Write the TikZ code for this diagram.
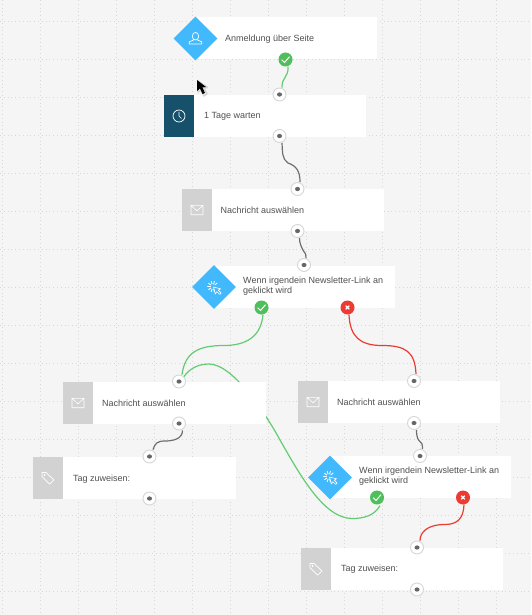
\documentclass[tikz,border=0pt]{standalone}
\usepackage{fontspec}
\setmainfont{Liberation Sans}
\usetikzlibrary{backgrounds,shapes.geometric}
\pgfdeclarelayer{gridlayer}
\pgfdeclarelayer{edgelayer}
\pgfsetlayers{gridlayer,edgelayer,main}
\definecolor{bgc}{HTML}{F5F5F5}
\definecolor{dotc}{HTML}{D8D8D8}
\definecolor{blueic}{HTML}{42B8FD}
\definecolor{darkic}{HTML}{17506B}
\definecolor{grayic}{HTML}{D2D2D2}
\definecolor{okc}{HTML}{4FBF5B}
\definecolor{okl}{HTML}{62CC72}
\definecolor{noc}{HTML}{EC3B32}
\definecolor{txt}{HTML}{505050}
\definecolor{portb}{HTML}{D6D6D6}
\definecolor{portd}{HTML}{666666}
\definecolor{edgec}{HTML}{6F6F6F}
\tikzset{
  x=1pt,y=-1pt,
  griddot/.style={dotc,line width=0.9pt,dash pattern=on 1pt off 2.8pt},
  card/.style={fill=white,draw=none,anchor=north west,inner sep=0pt,minimum height=42pt},
  tile/.style={draw=none,anchor=north west,inner sep=0pt,minimum width=30pt,minimum height=42pt},
  gem/.style={fill=blueic,draw=none,shape=diamond,inner sep=0pt,minimum size=44pt},
  lbl/.style={anchor=west,inner sep=0pt,text=txt,font=\fontsize{9}{10}\selectfont,align=left},
  port/.style={circle,fill=white,draw=portb,line width=0.9pt,inner sep=0pt,minimum size=13pt},
  okdot/.style={circle,fill=okc,draw=none,inner sep=0pt,minimum size=14pt},
  nodot/.style={circle,fill=noc,draw=none,inner sep=0pt,minimum size=14pt},
  glyph/.style={white,line width=0.7pt,line join=round,line cap=round},
  okedge/.style={okl,line width=1.2pt},
  noedge/.style={noc,line width=1.2pt},
  grayedge/.style={edgec,line width=1.2pt},
}
\newcommand{\portat}[2]{\node[port] (#1) at (#2) {}; \fill[portd] (#2) ellipse (2.5pt and 2.1pt);}
\newcommand{\okat}[2]{\node[okdot] (#1) at (#2) {}; \draw[white,line width=1pt,shift={(#2)}] (-3.8,0.2) -- (-1,3) -- (4,-2.8);}
\newcommand{\noat}[2]{\node[nodot] (#1) at (#2) {}; \draw[white,line width=1.1pt,shift={(#2)}] (-1.8,-1.8) -- (1.8,1.8) (-1.8,1.8) -- (1.8,-1.8);}
\newcommand{\mailicon}[1]{\draw[glyph,shift={(#1)},line width=0.6pt] (-6,-4.7) rectangle (6,4.7) (-6,-4.7) -- (0,0.8) -- (6,-4.7);}
\newcommand{\tagicon}[1]{\draw[glyph,shift={(#1)}] (-6,-5.5) -- (-2,-5.5) -- (6,2) -- (1.5,6.2) -- (-6,-1.5) -- cycle; \draw[glyph,shift={(#1)},line width=0.5pt] (-3.5,-3) circle (0.8);}
\newcommand{\clickicon}[1]{\begin{scope}[shift={(#1)}]
 \draw[glyph,line width=0.6pt] (0,0) -- (7,1.8) -- (4.8,3.2) -- (7.6,6) -- (6.2,7.4) -- (3.4,4.6) -- (1.8,7) -- cycle;
 \foreach \a in {75,110,145,180,215,250,285,320}{\draw[glyph,line width=0.9pt] (-0.5,-0.5) ++(\a:2.6) -- ++(\a:2.8);}
\end{scope}}
\begin{document}
\begin{tikzpicture}
\useasboundingbox (0,0) rectangle (531,615);
\begin{pgfonlayer}{gridlayer}
\fill[bgc] (0,0) rectangle (531,615);
\foreach \gx in {2.3,40.3,...,534}{\draw[griddot] (\gx,0) -- (\gx,615);}
\foreach \gy in {21.5,59.5,...,600}{\draw[griddot] (0,\gy) -- (531,\gy);}
\end{pgfonlayer}

% node 1
\node[card,minimum width=182pt] (c1) at (195,17) {};
\node[gem] (g1) at (195.5,38.5) {};
\draw[glyph] (195.5,36.2) ellipse (3.2 and 3.8);
\draw[glyph] (193.3,39.2) -- (193.3,40.2) -- (189.2,41.8) -- (189.2,44) -- (201.8,44) -- (201.8,41.8) -- (197.7,40.2) -- (197.7,39.2);
\node[lbl] (t1) at (225,39) {Anmeldung über Seite};
\okat{k1}{285.5,59.5}

% node 2
\node[card,minimum width=202pt] (c2) at (164,95) {};
\node[tile,fill=darkic] (i2) at (164,95) {};
\draw[glyph] (179,116) circle (6);
\draw[glyph,line width=0.6pt] (179,112) -- (179,116) -- (181.5,118.5);
\node[lbl] (t2) at (204,116) {1 Tage warten};
\portat{p2a}{279.5,94.5}
\portat{p2b}{279.5,136}

% node 3
\node[card,minimum width=202pt] (c3) at (182,189) {};
\node[tile,fill=grayic] (i3) at (182,189) {};
\mailicon{197,210}
\node[lbl] (t3) at (220.5,210) {Nachricht auswählen};
\portat{p3a}{297.5,189}
\portat{p3b}{297.5,231}

% node 4
\node[card,minimum width=181pt] (c4) at (214,266) {};
\node[gem] (g4) at (214,287) {};
\clickicon{213.5,287}
\node[lbl] (t4) at (243,286.3) {Wenn irgendein Newsletter-Link an\\geklickt wird};
\portat{p4}{304,265}
\okat{k4}{261.5,307.5}
\noat{n4}{347.5,307.5}

% node 5
\node[card,minimum width=203pt] (c5) at (63,382) {};
\node[tile,fill=grayic] (i5) at (63,382) {};
\mailicon{78,403}
\node[lbl] (t5) at (102,403) {Nachricht auswählen};
\portat{p5a}{179,381.5}
\portat{p5b}{179,423.5}

% node 6
\node[card,minimum width=203pt] (c6) at (33,457) {};
\node[tile,fill=grayic] (i6) at (33,457) {};
\tagicon{48,478}
\node[lbl] (t6) at (73,479) {Tag zuweisen:};
\portat{p6a}{149.5,456.5}
\portat{p6b}{149.5,498.5}

% node 7
\node[card,minimum width=202pt] (c7) at (298,381) {};
\node[tile,fill=grayic] (i7) at (298,381) {};
\mailicon{313,402}
\node[lbl] (t7) at (337,402) {Nachricht auswählen};
\portat{p7a}{414,381}
\portat{p7b}{414,423}

% node 8
\node[card,minimum width=181pt] (c8) at (330,456) {};
\node[gem] (g8) at (330,477.5) {};
\clickicon{329.5,477}
\node[lbl] (t8) at (359,476.5) {Wenn irgendein Newsletter-Link an\\geklickt wird};
\portat{p8}{420,456}
\okat{k8}{377,497.5}
\noat{n8}{463,497.5}

% node 9
\node[card,minimum width=202pt] (c9) at (301,548) {};
\node[tile,fill=grayic] (i9) at (301,548) {};
\tagicon{316,569}
\node[lbl] (t9) at (341,569) {Tag zuweisen:};
\portat{p9a}{417,547.5}
\portat{p9b}{417,589.5}

% mouse cursor
\draw[black!25,line width=1.5pt,line join=round,opacity=.6] (198,81) -- (198,92) -- (201,90) -- (204,96) -- (207,94) -- (204,88) -- (207.5,87.5) -- cycle;
\fill[black] (197,80) -- (197,91) -- (200,88.5) -- (202.5,94) -- (205,93) -- (202.5,87.5) -- (206,87) -- cycle;

\begin{pgfonlayer}{edgelayer}
\coordinate (m1) at (285,77.5);
\draw[okedge] (k1.south) ++(2.5,0) .. controls +(0,8) and +(2,-5) .. (m1) .. controls +(-2,4) and +(0,-6) .. ([xshift=2.5pt]p2a.north);
\coordinate (m2) at (288,163);
\draw[grayedge] ([xshift=2.5pt]p2b.south) .. controls +(0.5,9) and +(-6,-4) .. (m2) .. controls +(9,3) and +(0,-10) .. ([xshift=2.5pt]p3a.north);
\coordinate (m3) at (303.5,251);
\draw[grayedge] ([xshift=2pt]p3b.south) .. controls +(0,6) and +(-2,-4) .. (m3) .. controls +(2.5,3) and +(0,-3) .. ([xshift=2pt]p4.north);
\coordinate (m4) at (224,345.5);
\draw[okedge] ([xshift=1.5pt]k4.south) .. controls +(-2,22) and +(22,0) .. (m4) .. controls +(-26,0) and +(3,-22) .. ([xshift=3pt]p5a.north);
\coordinate (m5) at (382,345.5);
\draw[noedge] ([xshift=1.5pt]n4.south) .. controls +(1,22) and +(-22,0) .. (m5) .. controls +(24,0) and +(-1,-22) .. ([xshift=2pt]p7a.north);
\coordinate (m6) at (165,441);
\draw[grayedge] ([xshift=3.5pt]p5b.south) .. controls +(0,8) and +(9,0) .. (m6) .. controls +(-8,0) and +(2,-6) .. ([xshift=3.5pt]p6a.north);
\coordinate (m7) at (419,440.5);
\draw[grayedge] ([xshift=2.5pt]p7b.south) .. controls +(0,4) and +(-2,-2) .. (m7) .. controls +(3,2) and +(0,-5) .. ([xshift=2.5pt]p8.north);
\coordinate (m8) at (445,524.5);
\draw[noedge] ([xshift=1pt]n8.south) .. controls +(-0.5,14) and +(12,0) .. (m8) .. controls +(-18,0) and +(0,-8) .. ([xshift=3pt]p9a.north);
\coordinate (m9) at (352,518.5);
\coordinate (m10) at (209,364);
\coordinate (m11) at (280,440);
\draw[okedge] ([xshift=3pt,yshift=-1pt]k8.south) .. controls +(-6,10) and +(12,0) .. (m9) .. controls +(-28,0) and +(20,35) .. (m11) .. controls +(-14,-26) and +(24,0) .. (m10) .. controls +(-12,0) and +(5,-7) .. (p5a.north east);
\end{pgfonlayer}
\end{tikzpicture}
\end{document}
